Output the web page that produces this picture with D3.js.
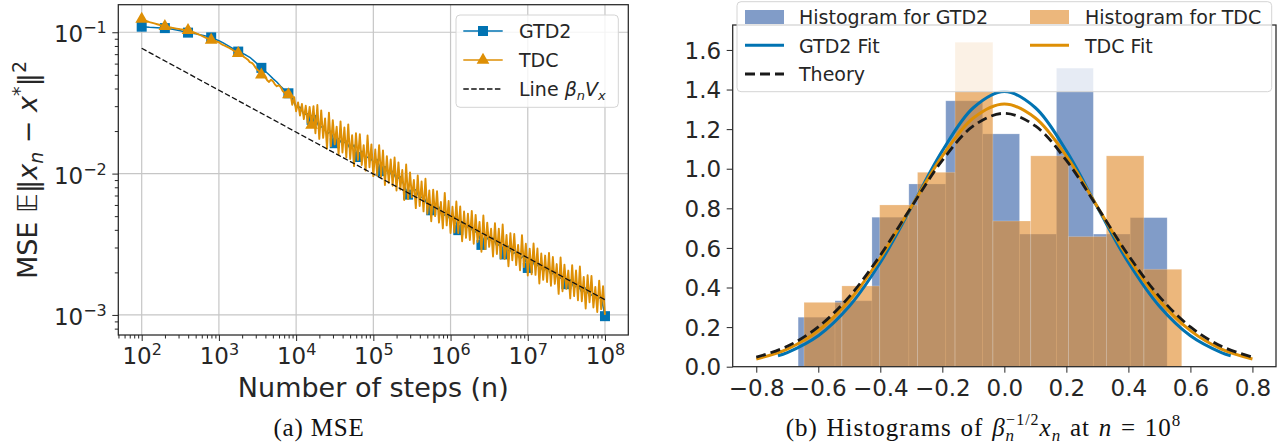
<!DOCTYPE html>
<html>
<head>
<meta charset="utf-8">
<script src="https://cdn.jsdelivr.net/npm/d3@7"></script>
<style>
  body { margin: 0; background: #fff; }
  svg text { font-family: "DejaVu Sans", sans-serif; fill: #262626; }
  svg text.cap { font-family: "Liberation Serif", serif; fill: #111; }
</style>
</head>
<body>
<svg id="fig" width="1286" height="447"></svg>
<script>
// ---- panel (a): MSE vs number of steps ----
// GTD2 sampled every 0.05 in log10(n) from 10^2, TDC every 0.025
const gridStart = 2, gtd2Step = 0.05, tdcStep = 0.025;
const gtd2Mse = [
  0.1095, 0.1090, 0.1085, 0.1082, 0.1078, 0.1074, 0.1070, 0.1060, 0.1050, 0.1038,
  0.1025, 0.1010, 0.0994, 0.0985, 0.0975, 0.0962, 0.0950, 0.0935, 0.0920, 0.0895,
  0.0870, 0.0845, 0.0815, 0.0785, 0.0755, 0.0730, 0.0710, 0.0690, 0.0665, 0.0630,
  0.0595, 0.0560, 0.0530, 0.0500, 0.0470, 0.0445, 0.0415, 0.0390, 0.0370,
  0.0340, 0.0294, 0.0296, 0.0262, 0.0265, 0.0240, 0.0247, 0.0211, 0.0216, 0.0190,
  0.0200, 0.0164, 0.0177, 0.0162, 0.0170, 0.0149, 0.0159, 0.0131, 0.0144, 0.0128,
  0.0133, 0.0120, 0.0126, 0.0104, 0.0112, 0.0098, 0.0104, 0.0091, 0.0095, 0.0082,
  0.0071, 0.0076, 0.0077, 0.0067, 0.0069, 0.0060, 0.0055, 0.0056, 0.0058, 0.0050,
  0.0052, 0.0047, 0.00493, 0.00398, 0.00455, 0.00411, 0.00434, 0.00379, 0.00398, 0.00313,
  0.00367, 0.00334, 0.00353, 0.00306, 0.00323, 0.00268, 0.00306, 0.00270, 0.00279, 0.00249,
  0.00264, 0.00215, 0.00249, 0.00219, 0.00230, 0.00203, 0.00218, 0.00193, 0.00201, 0.00179,
  0.00186, 0.00165, 0.00177, 0.00156, 0.00164, 0.00144, 0.00155, 0.00136, 0.00141, 0.00129,
  0.00134, 0.00098
];
const tdcMse = [
  0.1240, 0.1225, 0.1210, 0.1195, 0.1180, 0.1170, 0.1160, 0.1150, 0.1140, 0.1130,
  0.1120, 0.1110, 0.1100, 0.1092, 0.1085, 0.1080, 0.1075, 0.1068, 0.1062, 0.1056,
  0.1050, 0.1045, 0.1040, 0.1035, 0.1030, 0.1020, 0.1010, 0.0998, 0.0985, 0.0972,
  0.0960, 0.0945, 0.0930, 0.0918, 0.0905, 0.0892, 0.0880, 0.0876, 0.0870, 0.0860,
  0.0850, 0.0830, 0.0815, 0.0805, 0.0790, 0.0780, 0.0765, 0.0752, 0.0735, 0.0726,
  0.0710, 0.0702, 0.0690, 0.0668, 0.0655, 0.0640, 0.0615, 0.0608, 0.0590, 0.0562,
  0.0540, 0.0528, 0.0500, 0.0495, 0.0480, 0.0458, 0.0445, 0.0462, 0.0450, 0.0428,
  0.0415, 0.0422, 0.0410, 0.0385, 0.0372, 0.0380, 0.0362,
  0.0373, 0.0307, 0.0347, 0.0276,     0.0319, 0.0257, 0.0311, 0.0243,
  0.0302, 0.0229, 0.0296, 0.0220,     0.0300, 0.0193, 0.0306, 0.0176,
  0.0280, 0.0179, 0.0246, 0.0150,     0.0270, 0.0156, 0.0239, 0.0161,
  0.0215, 0.0136, 0.0234, 0.0141,     0.0212, 0.0130, 0.0223, 0.0127,
  0.0187, 0.0113, 0.0193, 0.0125,     0.0190, 0.0115, 0.0159, 0.0105,
  0.0186, 0.0111, 0.0161, 0.0096,     0.0148, 0.0097, 0.0159, 0.0095,
  0.0146, 0.0083, 0.0133, 0.0086,     0.0126, 0.0082, 0.0130, 0.0076,
  0.0120, 0.0077, 0.0106, 0.0065,     0.0116, 0.0066, 0.0102, 0.0068,
  0.0090, 0.0057, 0.0097, 0.0059,     0.0088, 0.0054, 0.0092, 0.0052,
  0.0076, 0.0046, 0.0077, 0.0050,     0.0075, 0.0045, 0.0063, 0.0041,
  0.0073, 0.0043, 0.0064, 0.0038,     0.00583, 0.00384, 0.00634, 0.00380,
  0.00585, 0.00332, 0.00539, 0.00351, 0.00521, 0.00339, 0.00544, 0.00319,
  0.00510, 0.00328, 0.00455, 0.00280, 0.00505, 0.00292, 0.00450, 0.00303,
  0.00407, 0.00259, 0.00446, 0.00270, 0.00408, 0.00251, 0.00436, 0.00249,
  0.00368, 0.00221, 0.00379, 0.00244, 0.00374, 0.00225, 0.00313, 0.00207,
  0.00367, 0.00218, 0.00319, 0.00190, 0.00294, 0.00194, 0.00320, 0.00192,
  0.00295, 0.00167, 0.00272, 0.00177, 0.00263, 0.00171, 0.00275, 0.00161,
  0.00257, 0.00166, 0.00229, 0.00141, 0.00255, 0.00147, 0.00227, 0.00153,
  0.00206, 0.00131, 0.00225, 0.00136, 0.00206, 0.00127, 0.00220, 0.00125,
  0.00186, 0.00111, 0.00191, 0.00123, 0.00189, 0.00113, 0.00158, 0.00105,
  0.00175, 0.00110, 0.00160, 0.00100
];
const gtd2MarkerIdx = [0, 6, 12, 18, 25, 31, 38, 44, 50, 56, 62, 69, 75, 82, 88, 94, 100, 110, 120];
const tdcMarkerIdx = [0, 12, 24, 36, 50, 62, 76, 88];
const lineN = [1e2, 1e8];
const lineMse = [0.077, 0.00128];
const xTicksA = [1e2, 1e3, 1e4, 1e5, 1e6, 1e7, 1e8];
const yTicksA = [1e-3, 1e-2, 1e-1];

// ---- panel (b): histograms at n = 10^8 ----
const gtd2Edges = [-0.665, -0.546, -0.427, -0.308, -0.189, -0.070, 0.049, 0.168, 0.287, 0.406, 0.525];
const gtd2Dens = [0.25, 0.333, 0.755, 0.923, 1.343, 1.176, 0.67, 1.508, 0.67, 0.753];
const tdcEdges = [-0.646, -0.524, -0.402, -0.280, -0.159, -0.037, 0.085, 0.207, 0.329, 0.450, 0.572];
const tdcDens = [0.325, 0.408, 0.817, 0.982, 1.639, 0.736, 1.065, 0.657, 1.065, 0.492];
const fitX = [-0.8, -0.7, -0.6, -0.5, -0.4, -0.3, -0.2, -0.1, 0, 0.1, 0.2, 0.3, 0.4, 0.5, 0.6, 0.7, 0.8];
const theoryY = [0.048, 0.103, 0.201, 0.354, 0.563, 0.806, 1.042, 1.216, 1.28, 1.216, 1.042, 0.806, 0.563, 0.354, 0.201, 0.103, 0.048];
const tdcFitY = [0.039, 0.089, 0.182, 0.334, 0.549, 0.808, 1.064, 1.256, 1.327, 1.256, 1.064, 0.808, 0.549, 0.334, 0.182, 0.089, 0.039];
const gtd2FitX = [-0.73, -0.7, -0.6, -0.5, -0.4, -0.3, -0.2, -0.1, 0, 0.1, 0.2, 0.3, 0.4, 0.5, 0.6, 0.7, 0.73];
const gtd2FitY = [0.055, 0.071, 0.156, 0.305, 0.526, 0.805, 1.090, 1.308, 1.39, 1.308, 1.090, 0.805, 0.526, 0.305, 0.156, 0.071, 0.055];
const xTicksB = [-0.8, -0.6, -0.4, -0.2, 0, 0.2, 0.4, 0.6, 0.8];
const yTicksB = [0, 0.2, 0.4, 0.6, 0.8, 1.0, 1.2, 1.4, 1.6];

const blue = "#0173b2", orange = "#de8f05", ink = "#262626";
const histBlue = "#4c72b0", histOrange = "#e08a2c";
const svg = d3.select("#fig");

// ================= panel (a) =================
const A = { left: 118.3, right: 628.3, top: 4.7, bottom: 335 };
const xA = d3.scaleLog().domain([Math.pow(10, 1.697), Math.pow(10, 8.302)]).range([A.left, A.right]);
const yA = d3.scaleLog().domain([Math.pow(10, -3.142), Math.pow(10, -0.805)]).range([A.bottom, A.top]);
const gtd2N = gtd2Mse.map((_, i) => Math.pow(10, gridStart + i * gtd2Step));
const tdcN = tdcMse.map((_, i) => Math.pow(10, gridStart + i * tdcStep));

// grid
svg.append("g").selectAll("line").data(xTicksA).join("line")
  .attr("x1", d => xA(d)).attr("x2", d => xA(d)).attr("y1", A.top).attr("y2", A.bottom)
  .attr("stroke", "#c6c6c6").attr("stroke-width", 1.2);
svg.append("g").selectAll("line").data(yTicksA).join("line")
  .attr("x1", A.left).attr("x2", A.right).attr("y1", d => yA(d)).attr("y2", d => yA(d))
  .attr("stroke", "#c6c6c6").attr("stroke-width", 1.2);

function styleAxis(g) {
  g.select(".domain").remove();
  g.attr("font-size", null).attr("font-family", null);
  g.selectAll(".tick line").attr("stroke", ink).attr("stroke-width", 1);
  g.selectAll(".tick text").style("font-size", "23px").attr("fill", ink);
}
function expLabel(text, d) {
  const e = Math.round(Math.log10(d));
  const t = d3.select(text);
  t.text(null);
  t.append("tspan").text("10");
  t.append("tspan").attr("dy", -9).style("font-size", "16px").text(String(e).replace("-", "\u2212"));
}

const minorX = xA.ticks().filter(d => !xTicksA.includes(d) && xA(d) < A.right - 1);
const minorY = yA.ticks().filter(d => !yTicksA.some(t => Math.abs(t - d) < 1e-12));

svg.append("g").attr("transform", `translate(0,${A.bottom})`)
  .call(d3.axisBottom(xA).tickValues(minorX).tickSize(3.5).tickFormat(""))
  .call(styleAxis);
svg.append("g").attr("transform", `translate(0,${A.bottom})`)
  .call(d3.axisBottom(xA).tickValues(xTicksA).tickSize(6))
  .call(styleAxis)
  .selectAll(".tick text").attr("y", 29).attr("dy", 0).each(function(d) { expLabel(this, d); });
svg.append("g").attr("transform", `translate(${A.left},0)`)
  .call(d3.axisLeft(yA).tickValues(minorY).tickSize(3.5).tickFormat(""))
  .call(styleAxis);
svg.append("g").attr("transform", `translate(${A.left},0)`)
  .call(d3.axisLeft(yA).tickValues(yTicksA).tickSize(6).tickPadding(5.5))
  .call(styleAxis)
  .selectAll(".tick text").attr("dy", 9.4).each(function(d) { expLabel(this, d); });

// series
const lineG = d3.line().x((d, i) => xA(gtd2N[i])).y(d => yA(d));
const lineT = d3.line().x((d, i) => xA(tdcN[i])).y(d => yA(d));
svg.append("path").datum(gtd2Mse).attr("d", lineG)
  .attr("fill", "none").attr("stroke", blue).attr("stroke-width", 1.5).attr("stroke-linejoin", "round");
svg.append("g").selectAll("rect").data(gtd2MarkerIdx).join("rect")
  .attr("x", i => xA(gtd2N[i]) - 5).attr("y", i => yA(gtd2Mse[i]) - 5)
  .attr("width", 10).attr("height", 10).attr("fill", blue);
svg.append("path").datum(tdcMse).attr("d", lineT)
  .attr("fill", "none").attr("stroke", orange).attr("stroke-width", 1.9).attr("stroke-linejoin", "round");
const tri = d3.symbol(d3.symbolTriangle).size(70);
svg.append("g").selectAll("path").data(tdcMarkerIdx).join("path")
  .attr("d", tri).attr("transform", i => `translate(${xA(tdcN[i])},${yA(tdcMse[i])})`)
  .attr("fill", orange);
svg.append("path").datum(lineN).attr("d", d3.line().x(d => xA(d)).y((d, i) => yA(lineMse[i])))
  .attr("fill", "none").attr("stroke", "#111").attr("stroke-width", 1.3).attr("stroke-dasharray", "5.5,2.4");

svg.append("rect").attr("x", A.left).attr("y", A.top)
  .attr("width", A.right - A.left).attr("height", A.bottom - A.top)
  .attr("fill", "none").attr("stroke", ink).attr("stroke-width", 1.25);

// legend (a)
const lgA = svg.append("g");
lgA.append("rect").attr("x", 456).attr("y", 15).attr("width", 162.3).attr("height", 92.3).attr("rx", 4)
  .attr("fill", "#fff").attr("fill-opacity", 0.8).attr("stroke", "#d4d4d4");
lgA.append("line").attr("x1", 463.3).attr("x2", 502.7).attr("y1", 31).attr("y2", 31).attr("stroke", blue).attr("stroke-width", 1.5);
lgA.append("rect").attr("x", 478).attr("y", 26).attr("width", 10).attr("height", 10).attr("fill", blue);
lgA.append("text").attr("x", 519).attr("y", 38).style("font-size", "19px").text("GTD2");
lgA.append("line").attr("x1", 463.3).attr("x2", 502.7).attr("y1", 60).attr("y2", 60).attr("stroke", orange).attr("stroke-width", 1.5);
lgA.append("path").attr("d", tri).attr("transform", "translate(483,60)").attr("fill", orange);
lgA.append("text").attr("x", 519).attr("y", 67).style("font-size", "19px").text("TDC");
lgA.append("line").attr("x1", 463.3).attr("x2", 502.7).attr("y1", 89).attr("y2", 89)
  .attr("stroke", "#111").attr("stroke-width", 1.3).attr("stroke-dasharray", "5.5,2.4");
const lt = lgA.append("text").attr("x", 519).attr("y", 96).style("font-size", "19px");
lt.append("tspan").text("Line ");
lt.append("tspan").style("font-style", "italic").text("β");
lt.append("tspan").attr("dy", 4).style("font-size", "13px").style("font-style", "italic").text("n");
lt.append("tspan").attr("dy", -4).style("font-style", "italic").text("V");
lt.append("tspan").attr("dy", 4).style("font-size", "13px").style("font-style", "italic").text("x");

// axis labels (a)
svg.append("text").attr("x", (A.left + A.right) / 2).attr("y", 397).attr("text-anchor", "middle")
  .style("font-size", "27px").text("Number of steps (n)");
const yl = svg.append("text").attr("transform", "translate(37,170) rotate(-90)")
  .attr("text-anchor", "middle").style("font-size", "27px");
yl.append("tspan").text("MSE 𝔼‖");
yl.append("tspan").style("font-style", "italic").text("x");
yl.append("tspan").attr("dy", 6).style("font-size", "19px").style("font-style", "italic").text("n");
yl.append("tspan").attr("dy", -6).text(" − ");
yl.append("tspan").style("font-style", "italic").text("x");
yl.append("tspan").attr("dy", -11).style("font-size", "19px").text("*");
yl.append("tspan").attr("dy", 11).text("‖");
yl.append("tspan").attr("dy", -11).style("font-size", "19px").text("2");

svg.append("text").attr("class", "cap").attr("x", 319).attr("y", 436).attr("text-anchor", "middle")
  .style("font-size", "25px").style("letter-spacing", "0.8px").text("(a) MSE");

// ================= panel (b) =================
const B = { left: 732.7, right: 1276, top: 25, bottom: 366.7 };
const xB = d3.scaleLinear().domain([-0.876, 0.876]).range([B.left, B.right]);
const yB = d3.scaleLinear().domain([0, 1.726]).range([B.bottom, B.top]);

function bars(edges, dens, fill, op) {
  svg.append("g").selectAll("rect").data(dens).join("rect")
    .attr("x", (d, i) => xB(edges[i]))
    .attr("width", (d, i) => xB(edges[i + 1]) - xB(edges[i]))
    .attr("y", d => yB(d)).attr("height", d => yB(0) - yB(d))
    .attr("fill", fill).attr("fill-opacity", op)
    .attr("stroke", "#fff").attr("stroke-opacity", 0.25).attr("stroke-width", 0.8);
}
bars(gtd2Edges, gtd2Dens, histBlue, 0.7);
bars(tdcEdges, tdcDens, histOrange, 0.62);

const fitLine = xs => d3.line().x((d, i) => xB(xs[i])).y(d => yB(d)).curve(d3.curveCatmullRom);
svg.append("path").datum(gtd2FitY).attr("d", fitLine(gtd2FitX))
  .attr("fill", "none").attr("stroke", blue).attr("stroke-width", 3);
svg.append("path").datum(tdcFitY).attr("d", fitLine(fitX))
  .attr("fill", "none").attr("stroke", orange).attr("stroke-width", 3);
svg.append("path").datum(theoryY).attr("d", fitLine(fitX))
  .attr("fill", "none").attr("stroke", "#1a1a1a").attr("stroke-width", 2.8).attr("stroke-dasharray", "10,5");

svg.append("g").attr("transform", `translate(0,${B.bottom})`)
  .call(d3.axisBottom(xB).tickValues(xTicksB).tickSize(6).tickFormat(d3.format(".1f")))
  .call(styleAxis)
  .selectAll(".tick text").attr("y", 29.3).attr("dy", 0);
svg.append("g").attr("transform", `translate(${B.left},0)`)
  .call(d3.axisLeft(yB).tickValues(yTicksB).tickSize(6).tickPadding(5.5).tickFormat(d3.format(".1f")))
  .call(styleAxis)
  .selectAll(".tick text").attr("dy", 8.2);

svg.append("rect").attr("x", B.left).attr("y", B.top)
  .attr("width", B.right - B.left).attr("height", B.bottom - B.top)
  .attr("fill", "none").attr("stroke", ink).attr("stroke-width", 1.25);

// legend (b)
const lgB = svg.append("g");
lgB.append("rect").attr("x", 737).attr("y", 1.7).attr("width", 534.7).attr("height", 90).attr("rx", 4)
  .attr("fill", "#fff").attr("fill-opacity", 0.8).attr("stroke", "#d4d4d4");
lgB.append("rect").attr("x", 745).attr("y", 10).attr("width", 39).attr("height", 14).attr("fill", histBlue).attr("fill-opacity", 0.7);
lgB.append("text").attr("x", 799).attr("y", 24).style("font-size", "19px").text("Histogram for GTD2");
lgB.append("line").attr("x1", 745).attr("x2", 784).attr("y1", 45.3).attr("y2", 45.3).attr("stroke", blue).attr("stroke-width", 3);
lgB.append("text").attr("x", 799).attr("y", 52.7).style("font-size", "19px").text("GTD2 Fit");
lgB.append("line").attr("x1", 745).attr("x2", 784).attr("y1", 74).attr("y2", 74)
  .attr("stroke", "#1a1a1a").attr("stroke-width", 2.8).attr("stroke-dasharray", "10,5");
lgB.append("text").attr("x", 799).attr("y", 81.3).style("font-size", "19px").text("Theory");
lgB.append("rect").attr("x", 1030).attr("y", 10).attr("width", 39).attr("height", 14).attr("fill", histOrange).attr("fill-opacity", 0.62);
lgB.append("text").attr("x", 1085).attr("y", 24).style("font-size", "19px").text("Histogram for TDC");
lgB.append("line").attr("x1", 1030).attr("x2", 1069).attr("y1", 45.3).attr("y2", 45.3).attr("stroke", orange).attr("stroke-width", 3);
lgB.append("text").attr("x", 1085).attr("y", 52.7).style("font-size", "19px").text("TDC Fit");

// caption (b)
const cb = svg.append("text").attr("class", "cap").attr("x", 983.5).attr("y", 436)
  .attr("text-anchor", "middle").style("font-size", "25px")
  .style("letter-spacing", "1px").style("word-spacing", "1.5px");
cb.append("tspan").text("(b) Histograms of ");
cb.append("tspan").style("font-style", "italic").text("β");
cb.append("tspan").attr("dy", 5).style("font-size", "17px").style("font-style", "italic").text("n");
cb.append("tspan").attr("dx", -9).attr("dy", -16).style("font-size", "16px").text("−1/2");
cb.append("tspan").attr("dy", 11).style("font-style", "italic").text("x");
cb.append("tspan").attr("dy", 5).style("font-size", "17px").style("font-style", "italic").text("n");
cb.append("tspan").attr("dy", -5).text(" at ");
cb.append("tspan").style("font-style", "italic").text("n");
cb.append("tspan").text(" = 10");
cb.append("tspan").attr("dy", -10).style("font-size", "17px").text("8");
</script>
</body>
</html>
